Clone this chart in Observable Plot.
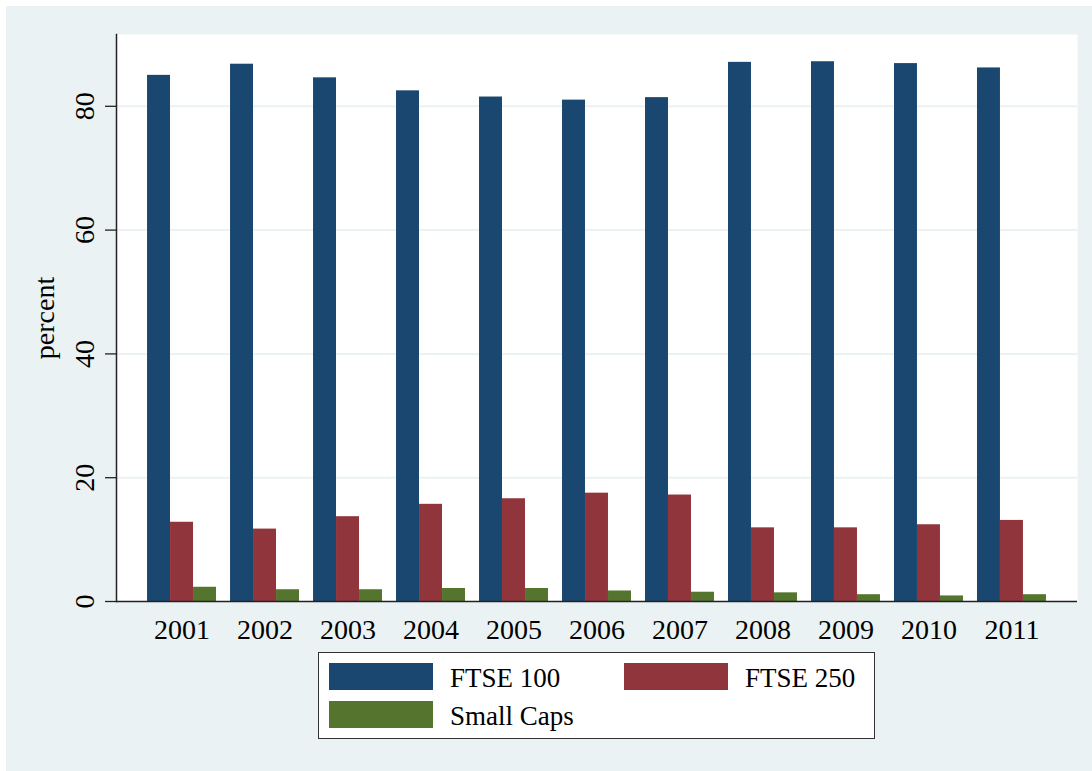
<!DOCTYPE html>
<html>
<head>
<meta charset="utf-8">
<script src="https://cdn.jsdelivr.net/npm/d3@7"></script>
<script src="https://cdn.jsdelivr.net/npm/@observablehq/plot@0.6"></script>
<style>
  html, body { margin: 0; padding: 0; background: #ffffff; }
  #wrap { position: absolute; left: 6px; top: 6px; width: 1086px; height: 765px; background: #eaf2f3; }
  #chart { position: absolute; left: 0; top: 0; }
  #legend { position: absolute; left: 312px; top: 646px; width: 555px; height: 85px; background: #ffffff;
            border: 1.5px solid #333333; font-family: "Liberation Serif", serif; font-size: 27px; color: #000; }
  .sw { position: absolute; width: 104px; height: 27px; }
  .lt { position: absolute; line-height: 27px; white-space: nowrap; }
</style>
</head>
<body>
<div id="wrap">
  <div id="chart"></div>
  <div id="legend"></div>
</div>
<script>
// ---- data ----
const years = ["2001", "2002", "2003", "2004", "2005", "2006", "2007", "2008", "2009", "2010", "2011"];
const seriesNames = ["FTSE 100", "FTSE 250", "Small Caps"];
const seriesColors = ["#1a476f", "#90353b", "#55752f"];
const ftse100 = [85.0, 86.8, 84.6, 82.5, 81.5, 81.0, 81.4, 87.1, 87.2, 86.9, 86.2];
const ftse250 = [12.8, 11.7, 13.7, 15.7, 16.6, 17.5, 17.2, 11.9, 11.9, 12.4, 13.1];
const smallCaps = [2.3, 1.9, 1.9, 2.1, 2.1, 1.7, 1.5, 1.4, 1.1, 0.9, 1.1];
const yTicks = [0, 20, 40, 60, 80];
const gridTicks = [20, 40, 60, 80];
const yLabel = "percent";

const seriesValues = [ftse100, ftse250, smallCaps];
const rows = [];
seriesNames.forEach((s, si) => years.forEach((y, yi) => rows.push({year: y, series: s, value: seriesValues[si][yi]})));

const barW = 23;
const chart = Plot.plot({
  width: 1086,
  height: 640,
  marginLeft: 110,
  marginRight: 15,
  marginTop: 28,
  marginBottom: 45,
  style: {background: "transparent", fontFamily: "Liberation Serif", color: "#000"},
  x: {type: "band", domain: years, paddingInner: 0.169, paddingOuter: 0.374, round: false, label: null},
  y: {domain: [0, 91.6], label: null},
  color: {domain: seriesNames, range: seriesColors},
  marks: [
    Plot.frame({fill: "white", stroke: null}),
    Plot.gridY({ticks: gridTicks, stroke: "#eaf2f3", strokeOpacity: 1, strokeWidth: 2}),
    ...seriesNames.map((s, i) => Plot.barY(rows.filter(d => d.series === s), {
      x: "year", y: "value", fill: "series",
      insetLeft: i * barW, insetRight: (2 - i) * barW
    })),
    Plot.axisY({ticks: yTicks, tickRotate: -90, tickSize: 11, tickPadding: 12, fontSize: 28,
      stroke: "#222", strokeWidth: 1.3,
      label: yLabel, labelAnchor: "center", labelOffset: 82, labelArrow: false}),
    Plot.axisX({tickSize: 0, tickPadding: 18, fontSize: 28, label: null}),
    Plot.ruleY([0], {stroke: "#222", strokeWidth: 1.5}),
    Plot.frame({anchor: "left", stroke: "#222", strokeWidth: 1.5})
  ]
});
document.getElementById("chart").appendChild(chart);

// ---- legend ----
const legend = document.getElementById("legend");
const pos = [
  {sx: 10, sy: 10, tx: 131},
  {sx: 305, sy: 10, tx: 426},
  {sx: 10, sy: 48, tx: 131}
];
seriesNames.forEach((s, i) => {
  const sw = document.createElement("div");
  sw.className = "sw";
  sw.style.left = pos[i].sx + "px";
  sw.style.top = pos[i].sy + "px";
  sw.style.background = seriesColors[i];
  legend.appendChild(sw);
  const t = document.createElement("div");
  t.className = "lt";
  t.style.left = pos[i].tx + "px";
  t.style.top = (pos[i].sy + 2) + "px";
  t.textContent = s;
  legend.appendChild(t);
});
</script>
</body>
</html>
